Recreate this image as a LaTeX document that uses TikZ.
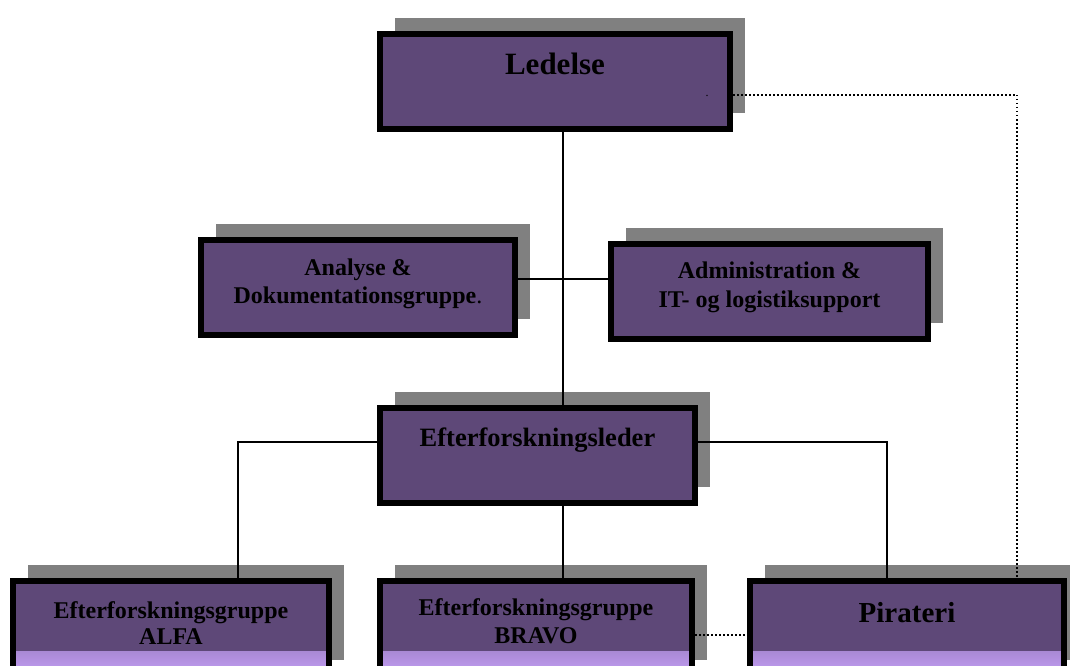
\documentclass[tikz,border=0pt]{standalone}
\usepackage{fontspec}
\setmainfont{Liberation Serif}
\usetikzlibrary{positioning}
\usetikzlibrary{shadows}
\definecolor{unitcolor}{RGB}{94, 72, 120}
\definecolor{shadowcolor}{RGB}{128, 128, 128}
\definecolor{fadecolor}{RGB}{196, 160, 245}
\tikzstyle{unit} = [
	draw=black,
	line width=6pt,
	fill=unitcolor,
	minimum height=95pt,
	inner sep=0pt,
	anchor=north west,
	general shadow={fill=shadowcolor, shadow xshift=15pt, shadow yshift=16pt}
]
\tikzstyle{lowunit} = [
	unit,
	path picture={
		\shade[top color=unitcolor, bottom color=fadecolor] ([yshift=8pt]path picture bounding box.south west) rectangle ([yshift=25pt]path picture bounding box.south east);
		\fill[fadecolor] (path picture bounding box.south west) rectangle ([yshift=8pt]path picture bounding box.south east);
	}
]
\tikzstyle{caption} = [
	anchor=base,
	align=center,
	text=black,
	font=\bfseries\fontsize{24}{28}\selectfont
]
\tikzstyle{link} = [
	line width=1.6pt
]
\tikzstyle{dots} = [
	line width=1.5pt,
	dash pattern=on 1.5pt off 2.5pt
]

\begin{document}
\begin{tikzpicture}[x=1pt, y=-1pt]
	\useasboundingbox (0,0) rectangle (1070,666);

	%
	% Top
	\node[unit, minimum width=350pt, label={[caption, label distance=-44pt, font=\bfseries\fontsize{31}{34}\selectfont]90:Ledelse}] (Ledelse) at (377,31) {};
	\node[anchor=base, font=\fontsize{12}{12}\selectfont, inner sep=0pt] (strayDot) at (707,97) {.};

	%
	% Staff units
	\node[unit, minimum width=314pt, label={[caption, label distance=-66pt]90:Analyse \&\\Dokumentationsgruppe\textmd{.}}] (Analyse) at (198,237) {};
	\node[unit, minimum width=317pt, label={[caption, label distance=-66pt, font=\bfseries\fontsize{24}{29}\selectfont]90:Administration \&\\IT- og logistiksupport}] (Admin) at (608,241) {};

	%
	% Investigation lead
	\node[unit, minimum width=315pt, label={[caption, label distance=-41pt, font=\bfseries\fontsize{26.5}{30}\selectfont]90:Efterforskningsleder}] (Leder) at (377,405) {};

	%
	% Groups
	\node[lowunit, minimum width=316pt, label={[caption, label distance=-66pt, font=\bfseries\fontsize{24}{26}\selectfont]90:Efterforskningsgruppe\\ALFA}] (Alfa) at (10,578) {};
	\node[lowunit, minimum width=312pt, label={[caption, label distance=-65pt, font=\bfseries\fontsize{24}{28}\selectfont]90:Efterforskningsgruppe\\BRAVO}] (Bravo) at (377,578) {};
	\node[lowunit, minimum width=314pt, label={[caption, label distance=-44pt, font=\bfseries\fontsize{29}{32}\selectfont]90:Pirateri}] (Pirateri) at (747,578) {};

	%
	% Line positions
	\coordinate (spine) at (563,0);
	\coordinate (staffrow) at (0,279);
	\coordinate (grouprow) at (0,442);
	\coordinate (alfaline) at (238,0);
	\coordinate (pirline) at (887,0);
	\coordinate (dotrow) at (0,95);
	\coordinate (dotline) at (1017,0);
	\coordinate (linkrow) at (0,635);

	%
	% Connectors
	\draw[link] (Ledelse.south -| spine) -- (Leder.north -| spine);
	\draw[link] (Analyse.east |- staffrow) -- (Admin.west |- staffrow);
	\draw[link] (Leder.west |- grouprow) -| (Alfa.north -| alfaline);
	\draw[link] (Leder.east |- grouprow) -| (Pirateri.north -| pirline);
	\draw[link] (Leder.south -| spine) -- (Bravo.north -| spine);

	% dotted
	\draw[dots] (Ledelse.east |- dotrow) -| (Pirateri.north -| dotline);
	\draw[dots] (Bravo.east |- linkrow) -- (Pirateri.west |- linkrow);

\end{tikzpicture}
\end{document}
